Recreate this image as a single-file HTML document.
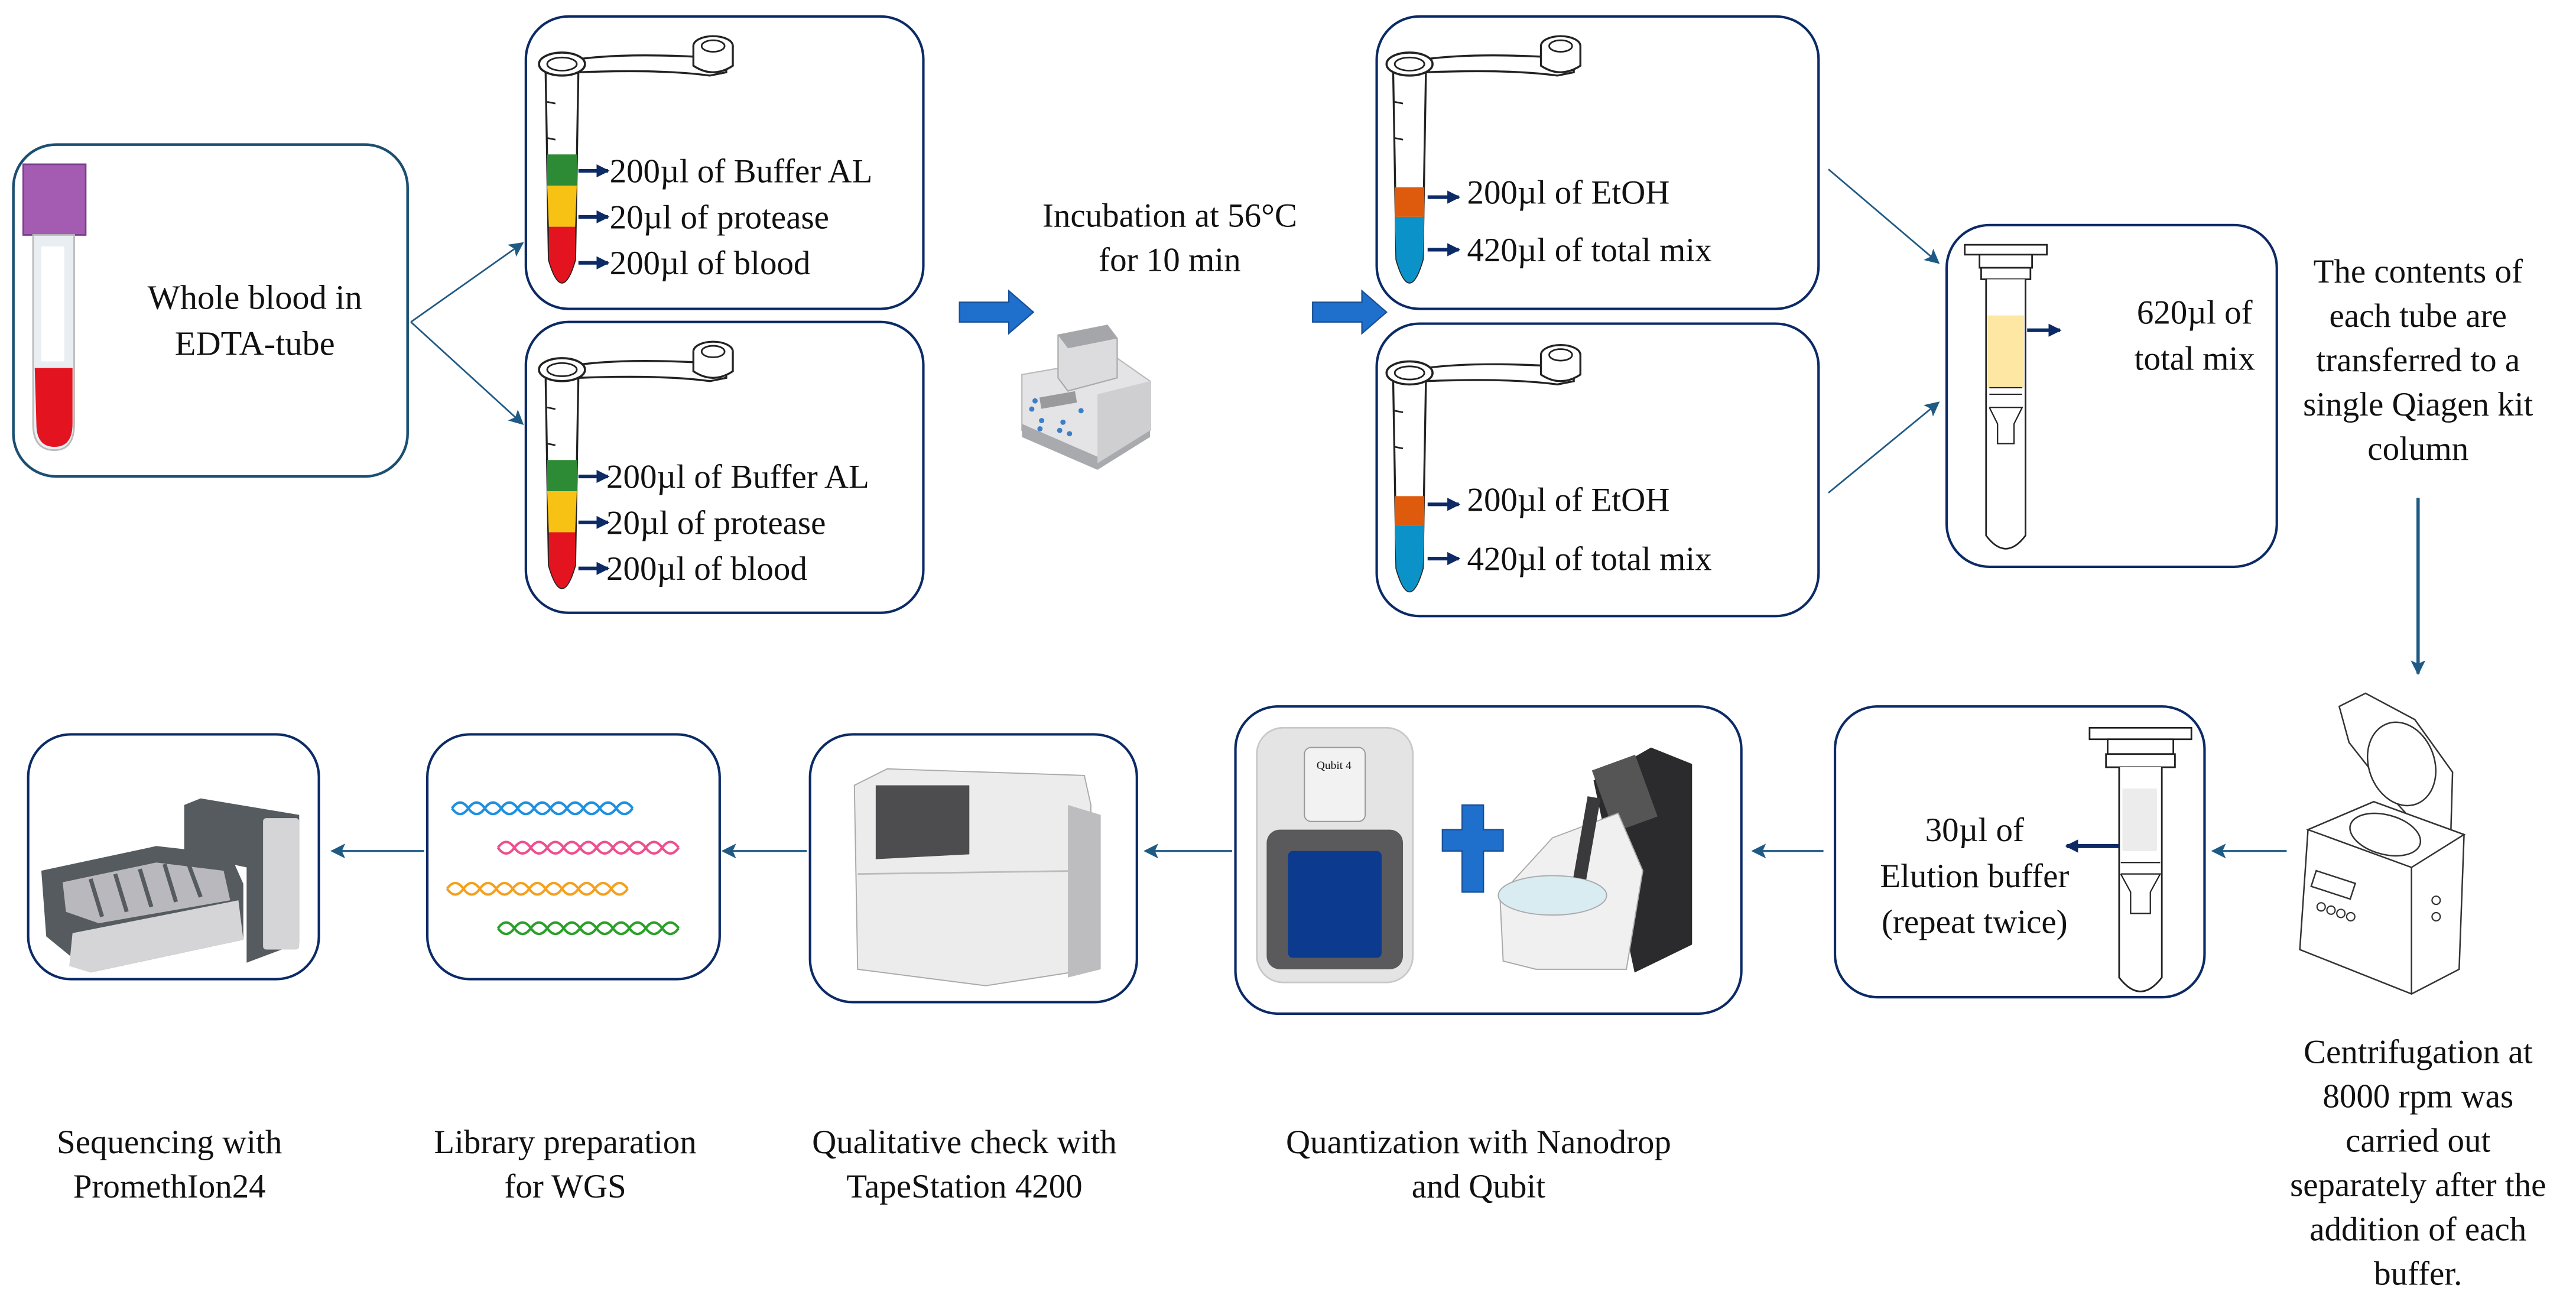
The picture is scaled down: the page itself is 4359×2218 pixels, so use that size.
<!DOCTYPE html>
<html><head><meta charset="utf-8"><style>
html,body{margin:0;padding:0;background:#fff;}
svg{display:block;}
</style></head><body>
<svg width="4359" height="2218" viewBox="0 0 1568 798" xmlns="http://www.w3.org/2000/svg" font-family="'Liberation Serif','DejaVu Serif','Times New Roman',serif" fill="#111">
<defs>
<marker id="ah" markerWidth="8" markerHeight="8" refX="7" refY="4" orient="auto" markerUnits="userSpaceOnUse"><path d="M0,0 L8,4 L0,8 Z" fill="#0b2a66"/></marker>
<marker id="th" markerWidth="9" markerHeight="9" refX="8" refY="4.5" orient="auto" markerUnits="userSpaceOnUse"><path d="M0,0 L9,4.5 L0,9 L2,4.5 Z" fill="#1f5a85"/></marker>
<g id="etube">
  <path d="M10,-2 Q40,-6 90,-3 L100,0 L100,6 L90,8 Q60,4 10,6" fill="#fff" stroke="#222" stroke-width="1.2"/>
  <ellipse cx="92" cy="-10" rx="12" ry="6" fill="#fff" stroke="#222" stroke-width="1.2"/>
  <path d="M80,-10 L80,2 Q92,10 104,2 L104,-10" fill="#fff" stroke="#222" stroke-width="1.2"/>
  <ellipse cx="92" cy="-10" rx="7" ry="3.5" fill="none" stroke="#222" stroke-width="1"/>
  <path d="M-10,4 L-8,120 Q-4,134 0,134 Q4,134 8,120 L10,4" fill="#fff" stroke="#222" stroke-width="1.2"/>
  <ellipse cx="0" cy="1" rx="14" ry="7" fill="#fff" stroke="#222" stroke-width="1.3"/>
  <ellipse cx="0" cy="1" rx="9" ry="4" fill="none" stroke="#222" stroke-width="1"/>
  <path d="M-9,24 l5,1 M-9,46 l5,1" stroke="#222" stroke-width="1"/>
</g>
</defs>

<!-- Box 1 -->
<rect x="8" y="88" width="240" height="202" rx="26" fill="#fff" stroke="#1b4f72" stroke-width="1.6"/>
<rect x="14" y="100" width="38" height="43" fill="#a45cb3" stroke="#7b3d8b" stroke-width="1"/>
<path d="M20,143 L20,258 Q20,274 33,274 Q45,274 45,258 L45,143 Z" fill="#e8eef2" stroke="#bbb" stroke-width="1"/>
<path d="M21,224 L44,224 L44,258 Q44,272 33,272 Q22,272 22,258 Z" fill="#e3141f"/>
<rect x="25" y="150" width="14" height="70" fill="#fff"/>
<text x="155" y="188" font-size="21" text-anchor="middle">Whole blood in</text>
<text x="155" y="216" font-size="21" text-anchor="middle">EDTA-tube</text>

<line x1="250" y1="196" x2="318" y2="148" stroke="#1f5a85" stroke-width="1" marker-end="url(#th)"/>
<line x1="250" y1="196" x2="318" y2="258" stroke="#1f5a85" stroke-width="1" marker-end="url(#th)"/>

<!-- Box 2 & 3 -->
<rect x="320" y="10" width="242" height="178" rx="26" fill="#fff" stroke="#0b2a66" stroke-width="1.5"/>
<rect x="320" y="196" width="242" height="177" rx="26" fill="#fff" stroke="#0b2a66" stroke-width="1.5"/>
<g transform="translate(342,38)"><use href="#etube"/>
 <path d="M-9,56 L9,56 L9,75 L-9,75Z" fill="#2e8b35"/>
 <path d="M-9,75 L9,75 L8,100 L-8,100Z" fill="#f7c214"/>
 <path d="M-8,100 L8,100 L8,120 Q4,134 0,134 Q-4,134 -8,120Z" fill="#e3141f"/>
</g>
<g transform="translate(342,224)"><use href="#etube"/>
 <path d="M-9,56 L9,56 L9,75 L-9,75Z" fill="#2e8b35"/>
 <path d="M-9,75 L9,75 L8,100 L-8,100Z" fill="#f7c214"/>
 <path d="M-8,100 L8,100 L8,120 Q4,134 0,134 Q-4,134 -8,120Z" fill="#e3141f"/>
</g>
<g stroke="#0b2a66" stroke-width="2.2">
<line x1="352" y1="104" x2="370" y2="104" marker-end="url(#ah)"/>
<line x1="352" y1="132" x2="370" y2="132" marker-end="url(#ah)"/>
<line x1="352" y1="160" x2="370" y2="160" marker-end="url(#ah)"/>
<line x1="352" y1="290" x2="370" y2="290" marker-end="url(#ah)"/>
<line x1="352" y1="318" x2="370" y2="318" marker-end="url(#ah)"/>
<line x1="352" y1="346" x2="370" y2="346" marker-end="url(#ah)"/>
</g>
<g font-size="20.5">
<text x="371" y="111">200µl of Buffer AL</text>
<text x="371" y="139">20µl of protease</text>
<text x="371" y="167">200µl of blood</text>
<text x="369" y="297">200µl of Buffer AL</text>
<text x="369" y="325">20µl of protease</text>
<text x="369" y="353">200µl of blood</text>
</g>

<!-- Incubation -->
<text x="712" y="138" font-size="20.5" text-anchor="middle">Incubation at 56°C</text>
<text x="712" y="165" font-size="20.5" text-anchor="middle">for 10 min</text>
<path d="M584,184 L614,184 L614,177 L629,190 L614,203 L614,196 L584,196Z" fill="#1f6fcc" stroke="#174f96" stroke-width="0.8"/>
<path d="M799,184 L829,184 L829,177 L844,190 L829,203 L829,196 L799,196Z" fill="#1f6fcc" stroke="#174f96" stroke-width="0.8"/>
<!-- heater -->
<path d="M622,228 L680,218 L700,232 L700,262 L668,282 L622,262Z" fill="#e4e4e6" stroke="#bbb" stroke-width="0.8"/>
<path d="M622,258 L668,278 L700,258 L700,266 L668,286 L622,266Z" fill="#a9aaae"/>
<path d="M668,240 L700,232 L700,262 L668,282Z" fill="#cfcfd2"/>
<path d="M644,204 L674,198 L680,206 L680,230 L650,238 L644,230Z" fill="#dcdcdf" stroke="#aaa" stroke-width="0.8"/>
<path d="M644,204 L674,198 L680,206 L650,212Z" fill="#a5a6aa"/>
<rect x="633" y="240" width="22" height="7" fill="#9a9a9c" transform="rotate(-10 644 243)"/>
<g fill="#3b7fc7"><circle cx="630" cy="244" r="1.6"/><circle cx="628" cy="249" r="1.6"/><circle cx="634" cy="256" r="1.6"/><circle cx="633" cy="261" r="1.6"/><circle cx="647" cy="257" r="1.6"/><circle cx="645" cy="262" r="1.6"/><circle cx="658" cy="250" r="1.6"/><circle cx="651" cy="264" r="1.6"/></g>

<!-- Box 4 & 5 -->
<rect x="838" y="10" width="269" height="178" rx="26" fill="#fff" stroke="#0b2a66" stroke-width="1.5"/>
<rect x="838" y="197" width="269" height="178" rx="26" fill="#fff" stroke="#0b2a66" stroke-width="1.5"/>
<g transform="translate(858,38)"><use href="#etube"/>
 <path d="M-9,76 L9,76 L9,94 L-9,94Z" fill="#de5a0c"/>
 <path d="M-9,94 L9,94 L8,120 Q4,134 0,134 Q-4,134 -8,120Z" fill="#0b93c9"/>
</g>
<g transform="translate(858,226)"><use href="#etube"/>
 <path d="M-9,76 L9,76 L9,94 L-9,94Z" fill="#de5a0c"/>
 <path d="M-9,94 L9,94 L8,120 Q4,134 0,134 Q-4,134 -8,120Z" fill="#0b93c9"/>
</g>
<g stroke="#0b2a66" stroke-width="2.2">
<line x1="869" y1="120" x2="888" y2="120" marker-end="url(#ah)"/>
<line x1="869" y1="152" x2="888" y2="152" marker-end="url(#ah)"/>
<line x1="869" y1="307" x2="888" y2="307" marker-end="url(#ah)"/>
<line x1="869" y1="340" x2="888" y2="340" marker-end="url(#ah)"/>
</g>
<g font-size="20.5">
<text x="893" y="124">200µl of  EtOH</text>
<text x="893" y="159">420µl of total mix</text>
<text x="893" y="311">200µl of  EtOH</text>
<text x="893" y="347">420µl of total mix</text>
</g>
<line x1="1113" y1="103" x2="1180" y2="160" stroke="#1f5a85" stroke-width="1" marker-end="url(#th)"/>
<line x1="1113" y1="300" x2="1180" y2="245" stroke="#1f5a85" stroke-width="1" marker-end="url(#th)"/>

<!-- Box 6 column -->
<rect x="1185" y="137" width="201" height="208" rx="26" fill="#fff" stroke="#0b2a66" stroke-width="1.5"/>
<rect x="1196" y="149" width="50" height="6" fill="#fff" stroke="#222" stroke-width="1"/>
<rect x="1205" y="155" width="32" height="8" fill="#fff" stroke="#222" stroke-width="1"/>
<rect x="1206" y="163" width="30" height="7" fill="#fff" stroke="#222" stroke-width="1"/>
<path d="M1209,170 L1209,326 Q1221,342 1233,326 L1233,170" fill="#fff" stroke="#222" stroke-width="1"/>
<rect x="1210" y="192" width="22" height="44" fill="#fde7a3"/>
<path d="M1211,236 L1231,236 M1211,240 L1231,240 M1211,248 L1231,248 L1226,258 L1226,270 L1216,270 L1216,258 L1211,248" fill="none" stroke="#222" stroke-width="0.8"/>
<line x1="1234" y1="201" x2="1254" y2="201" stroke="#0b2a66" stroke-width="2.2" marker-end="url(#ah)"/>
<text x="1336" y="197" font-size="20.5" text-anchor="middle">620µl of</text>
<text x="1336" y="225" font-size="20.5" text-anchor="middle">total mix</text>
<g font-size="20.5" text-anchor="middle">
<text x="1472" y="172">The contents of</text>
<text x="1472" y="199">each tube are</text>
<text x="1472" y="226">transferred to a</text>
<text x="1472" y="253">single Qiagen kit</text>
<text x="1472" y="280">column</text>
</g>
<line x1="1472" y1="303" x2="1472" y2="410" stroke="#1f5a85" stroke-width="2" marker-end="url(#th)"/>

<!-- centrifuge -->
<g fill="#fff" stroke="#333" stroke-width="0.9">
<path d="M1424,430 L1440,422 L1470,438 L1493,470 L1492,505 L1480,512 L1460,490 L1430,452Z"/>
<ellipse cx="1462" cy="465" rx="20" ry="26" transform="rotate(-20 1462 465)"/>
<path d="M1405,505 L1445,488 L1500,508 L1497,590 L1468,605 L1400,578Z"/>
<path d="M1405,505 L1445,488 L1500,508 L1468,528Z"/>
<ellipse cx="1452" cy="508" rx="22" ry="12" transform="rotate(15 1452 508)"/>
<rect x="1410" y="530" width="25" height="10" transform="rotate(18 1410 530)"/>
<path d="M1468,528 L1468,605"/>
</g>
<g fill="none" stroke="#333" stroke-width="0.8"><circle cx="1413" cy="552" r="2.5"/><circle cx="1419" cy="554" r="2.5"/><circle cx="1425" cy="556" r="2.5"/><circle cx="1431" cy="558" r="2.5"/><circle cx="1483" cy="548" r="2.5"/><circle cx="1483" cy="558" r="2.5"/></g>
<g font-size="20.5" text-anchor="middle">
<text x="1472" y="647">Centrifugation at</text>
<text x="1472" y="674">8000 rpm was</text>
<text x="1472" y="701">carried out</text>
<text x="1472" y="728">separately after the</text>
<text x="1472" y="755">addition of each</text>
<text x="1472" y="782">buffer.</text>
</g>

<!-- bottom row arrows -->
<g stroke="#1f5a85" stroke-width="1.2">
<line x1="1392" y1="518" x2="1347" y2="518" marker-end="url(#th)"/>
<line x1="1110" y1="518" x2="1067" y2="518" marker-end="url(#th)"/>
<line x1="750" y1="518" x2="697" y2="518" marker-end="url(#th)"/>
<line x1="491" y1="518" x2="440" y2="518" marker-end="url(#th)"/>
<line x1="258" y1="518" x2="202" y2="518" marker-end="url(#th)"/>
</g>

<!-- Elution box -->
<rect x="1117" y="430" width="225" height="177" rx="26" fill="#fff" stroke="#0b2a66" stroke-width="1.5"/>
<rect x="1272" y="443" width="62" height="7" fill="#fff" stroke="#222" stroke-width="1"/>
<rect x="1283" y="450" width="40" height="9" fill="#fff" stroke="#222" stroke-width="1"/>
<rect x="1282" y="459" width="42" height="8" fill="#fff" stroke="#222" stroke-width="1"/>
<path d="M1290,467 L1290,595 Q1303,612 1316,595 L1316,467" fill="#fff" stroke="#222" stroke-width="1"/>
<rect x="1292" y="480" width="21" height="38" fill="#ececec"/>
<path d="M1291,525 L1315,525 M1291,532 L1315,532 L1309,543 L1309,556 L1297,556 L1297,543 L1291,532" fill="none" stroke="#222" stroke-width="0.8"/>
<line x1="1290" y1="515" x2="1258" y2="515" stroke="#0b2a66" stroke-width="2.5" marker-end="url(#ah)"/>
<g font-size="20.5" text-anchor="middle">
<text x="1202" y="512">30µl of</text>
<text x="1202" y="540">Elution buffer</text>
<text x="1202" y="568">(repeat twice)</text>
</g>

<!-- Quant box -->
<rect x="752" y="430" width="308" height="187" rx="26" fill="#fff" stroke="#0b2a66" stroke-width="1.5"/>
<rect x="765" y="443" width="95" height="155" rx="16" fill="#e4e4e4" stroke="#c8c8c8"/>
<rect x="794" y="455" width="37" height="45" rx="4" fill="#f2f2f2" stroke="#999" stroke-width="0.7"/>
<text x="812" y="468" font-size="7" text-anchor="middle">Qubit 4</text>
<rect x="771" y="505" width="83" height="85" rx="8" fill="#5a5a5c"/>
<rect x="784" y="518" width="57" height="65" rx="3" fill="#0b3a8f"/>
<path d="M878,505 h12 v-15 h13 v15 h12 v13 h-12 v25 h-13 v-25 h-12z" fill="#1f6fcc" stroke="#174f96" stroke-width="0.8"/>
<path d="M970,475 L1005,455 L1030,465 L1030,575 L995,592 Z" fill="#2b2b2d"/>
<rect x="975" y="463" width="28" height="40" fill="#555" transform="rotate(-20 989 483)"/>
<path d="M913,545 L945,510 L985,495 L1000,530 L990,590 L935,590 L915,585Z" fill="#f0f0f0" stroke="#aaa" stroke-width="0.7"/>
<ellipse cx="945" cy="545" rx="33" ry="12" fill="#d8ecf2" stroke="#aaa" stroke-width="0.7"/>
<rect x="962" y="485" width="8" height="50" fill="#3a3a3c" transform="rotate(10 966 510)"/>

<!-- TapeStation box -->
<rect x="493" y="447" width="199" height="163" rx="26" fill="#fff" stroke="#0b2a66" stroke-width="1.5"/>
<path d="M520,478 L540,468 L660,472 L664,490 L664,590 L600,600 L522,590Z" fill="#ececec" stroke="#aaa" stroke-width="0.7"/>
<path d="M533,478 L590,478 L590,520 L533,523Z" fill="#4d4d4f"/>
<path d="M522,532 L664,530" stroke="#bbb"/>
<path d="M650,490 L670,496 L670,590 L650,595Z" fill="#bdbdbf"/>

<!-- Library box -->
<rect x="260" y="447" width="178" height="149" rx="26" fill="#fff" stroke="#0b2a66" stroke-width="1.5"/>
<g fill="none" stroke-width="1.5">
<path d="M275,492 q5,-7 10,0 t10,0 t10,0 t10,0 t10,0 t10,0 t10,0 t10,0 t10,0 t10,0 t10,0 M275,492 q5,7 10,0 t10,0 t10,0 t10,0 t10,0 t10,0 t10,0 t10,0 t10,0 t10,0 t10,0" stroke="#1e90e0"/>
<path d="M303,516 q5,-7 10,0 t10,0 t10,0 t10,0 t10,0 t10,0 t10,0 t10,0 t10,0 t10,0 t10,0 M303,516 q5,7 10,0 t10,0 t10,0 t10,0 t10,0 t10,0 t10,0 t10,0 t10,0 t10,0 t10,0" stroke="#ee4f8f"/>
<path d="M272,541 q5,-7 10,0 t10,0 t10,0 t10,0 t10,0 t10,0 t10,0 t10,0 t10,0 t10,0 t10,0 M272,541 q5,7 10,0 t10,0 t10,0 t10,0 t10,0 t10,0 t10,0 t10,0 t10,0 t10,0 t10,0" stroke="#f5a01c"/>
<path d="M303,565 q5,-7 10,0 t10,0 t10,0 t10,0 t10,0 t10,0 t10,0 t10,0 t10,0 t10,0 t10,0 M303,565 q5,7 10,0 t10,0 t10,0 t10,0 t10,0 t10,0 t10,0 t10,0 t10,0 t10,0 t10,0" stroke="#2aa02a"/>
</g>

<!-- Sequencing box -->
<rect x="17" y="447" width="177" height="149" rx="26" fill="#fff" stroke="#0b2a66" stroke-width="1.5"/>
<path d="M112,490 L122,486 L182,496 L182,574 L150,586 L150,528 L112,520Z" fill="#555b5e"/>
<rect x="160" y="498" width="22" height="80" fill="#d5d5d8" rx="2"/>
<path d="M25,530 L95,515 L140,520 L148,538 L148,572 L55,592 L28,570Z" fill="#555b5e"/>
<path d="M38,537 L95,525 L136,530 L140,548 L60,562 L40,555Z" fill="#b9b9bd"/>
<path d="M44,568 L145,548 L148,572 L55,592 L42,588Z" fill="#d5d5d8"/>
<g stroke="#555b5e" stroke-width="2.5"><line x1="55" y1="535" x2="62" y2="558"/><line x1="70" y1="532" x2="77" y2="555"/><line x1="85" y1="529" x2="92" y2="552"/><line x1="100" y1="526" x2="107" y2="549"/><line x1="115" y1="527" x2="122" y2="546"/></g>

<!-- bottom labels -->
<g font-size="20.5" text-anchor="middle">
<text x="103" y="702">Sequencing with</text>
<text x="103" y="729">PromethIon24</text>
<text x="344" y="702">Library preparation</text>
<text x="344" y="729">for WGS</text>
<text x="587" y="702">Qualitative check with</text>
<text x="587" y="729">TapeStation 4200</text>
<text x="900" y="702">Quantization with Nanodrop</text>
<text x="900" y="729">and Qubit</text>
</g>
</svg>
</body></html>
